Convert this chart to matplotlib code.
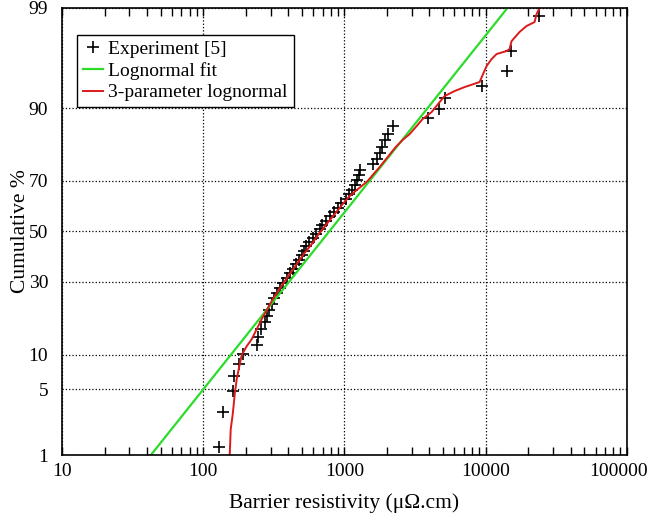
import math
import numpy as np
import matplotlib
matplotlib.use('Agg')
import matplotlib.pyplot as plt
from matplotlib import ticker
from matplotlib.transforms import ScaledTranslation

# Experiment [5] : resistivity (uOhm.cm) vs cumulative %
exp_x = [128.8, 137.4, 161.8, 164.4, 178.3, 190.3, 239.1, 243.0, 255.3, 272.4,
         281.4, 290.8, 305.3, 315.4, 331.3, 347.9, 365.3, 389.9, 409.5, 430.0,
         451.5, 474.2, 497.9, 514.5, 531.4, 558.1, 595.6, 625.6, 667.6, 689.6,
         736.0, 786.0, 838.7, 895.1, 940.0, 1019.8, 1071, 1124.6, 1180.8, 1220,
         1260.5, 1281, 1584, 1690, 1775, 1834, 1925, 2022, 2193, 3880,
         4642, 5118, 9354, 14060, 15010, 23680]
exp_y = [1.24, 3.01, 4.79, 6.56, 8.33, 10.11, 11.88, 13.65, 15.43, 17.20,
         18.97, 20.74, 22.52, 24.29, 26.06, 27.84, 29.61, 31.38, 33.16, 34.93,
         36.70, 38.48, 40.25, 42.02, 43.79, 45.57, 47.34, 49.11, 50.89, 52.66,
         54.43, 56.21, 57.98, 59.75, 61.52, 63.30, 65.07, 66.84, 68.62, 70.39,
         72.16, 73.94, 75.71, 77.48, 79.26, 81.03, 82.80, 84.57, 86.35, 88.12,
         89.89, 91.67, 93.44, 95.21, 96.99, 98.76]

# Lognormal fit (straight line on probability paper)
fit_x = [42.6, 14300]
fit_y = [1.0, 99.0]

# 3-parameter lognormal
tri_x = [154.0, 156.5, 161.8, 167.1, 172.6, 181.3, 187.3, 203.2, 220.4, 239.1,
         259.4, 281.4, 305.3, 331.3, 365.3, 409.5, 459.0, 514.5, 586.1, 656.9,
         748.2, 852.4, 971.1, 1088.4, 1220, 1323, 1459, 1584, 1775, 2022,
         2303, 2624, 2894, 3243, 3577, 4141, 4718, 5118, 6025, 7091,
         9054, 10148, 11010, 11946, 14060, 14760, 15250, 17380, 19480, 22190,
         22920, 24870]
tri_y = [1.0, 1.98, 2.87, 4.52, 6.22, 8.37, 9.9, 11.63, 13.1, 15.46,
         18.07, 20.64, 23.42, 26.05, 29.15, 32.85, 36.69, 40.67, 44.75, 48.88,
         53.04, 57.14, 61.18, 64.35, 66.64, 68.15, 69.99, 72.11, 74.83, 78.03,
         80.98, 83.15, 84.42, 86.34, 87.88, 89.28, 91.07, 92.04, 92.79, 93.34,
         93.99, 95.73, 96.35, 96.75, 96.97, 97.11, 97.61, 98.10, 98.37, 98.53,
         98.81, 99.10]

yticks = [1, 5, 10, 30, 50, 70, 90, 99]
xticks = [10, 100, 1000, 10000, 100000]


# probit scale helpers (percent <-> normal quantile)
A = [-3.969683028665376e+01, 2.209460984245205e+02, -2.759285104469687e+02,
     1.383577518672690e+02, -3.066479806614716e+01, 2.506628277459239e+00]
B = [-5.447609879822406e+01, 1.615858368580409e+02, -1.556989798598866e+02,
     6.680131188771972e+01, -1.328068155288572e+01]
C = [-7.784894002430293e-03, -3.223964580411365e-01, -2.400758277161838e+00,
     -2.549732539343734e+00, 4.374664141464968e+00, 2.938163982698783e+00]
D = [7.784695709041462e-03, 3.224671290700398e-01, 2.445134137142996e+00,
     3.754408661907416e+00]


def ppf(p):
    p = np.clip(np.asarray(p, dtype=float), 1e-9, 1 - 1e-9)
    with np.errstate(all='ignore'):
        q = p - 0.5
        r = q * q
        mid = (((((A[0]*r + A[1])*r + A[2])*r + A[3])*r + A[4])*r + A[5]) * q / \
              (((((B[0]*r + B[1])*r + B[2])*r + B[3])*r + B[4])*r + 1)
        ql = np.sqrt(-2 * np.log(p))
        low = (((((C[0]*ql + C[1])*ql + C[2])*ql + C[3])*ql + C[4])*ql + C[5]) / \
              ((((D[0]*ql + D[1])*ql + D[2])*ql + D[3])*ql + 1)
        qh = np.sqrt(-2 * np.log(1 - p))
        high = -(((((C[0]*qh + C[1])*qh + C[2])*qh + C[3])*qh + C[4])*qh + C[5]) / \
               ((((D[0]*qh + D[1])*qh + D[2])*qh + D[3])*qh + 1)
    return np.where(p < 0.02425, low, np.where(p > 1 - 0.02425, high, mid))


_erf = np.vectorize(math.erf)


def forward(y):
    return ppf(np.asarray(y, dtype=float) / 100.0)


def inverse(z):
    return 50.0 * (1 + _erf(np.asarray(z, dtype=float) / math.sqrt(2)))


plt.rcParams['font.family'] = ['Liberation Serif', 'DejaVu Serif']

fig = plt.figure(figsize=(6.53, 5.20), dpi=100)
ax = fig.add_axes([0.095, 0.125, 0.865, 0.86])

ax.set_xscale('log')
ax.set_yscale('function', functions=(forward, inverse))

ax.plot(exp_x, exp_y, linestyle='none', marker='+', color='black',
        markersize=8, markeredgewidth=1.2, label='Experiment [5]')
ax.plot(fit_x, fit_y, color='#2bdc2b', lw=1.6, label='Lognormal fit')
ax.plot(tri_x, tri_y, color='#dc1a1a', lw=1.4, label='3-parameter lognormal')

ax.set_xlim(10, 100000)
ax.set_ylim(1, 99)

ax.yaxis.set_major_locator(ticker.FixedLocator(yticks))
ax.yaxis.set_minor_locator(ticker.NullLocator())
ax.yaxis.set_major_formatter(ticker.FixedFormatter([str(t) for t in yticks]))
ax.set_xticks(xticks)
ax.set_xticklabels([str(t) for t in xticks])
ax.xaxis.set_minor_locator(ticker.LogLocator(base=10, subs=np.arange(2, 10)))
ax.xaxis.set_minor_formatter(ticker.NullFormatter())

ax.tick_params(axis='x', which='both', direction='in', top=True, length=6,
               width=1, labelsize=14, pad=6)
ax.tick_params(axis='y', which='both', length=0, labelsize=14, pad=10)

# keep the last x label inside the figure, as in the original
last = ax.get_xticklabels()[-1]
last.set_transform(last.get_transform() + ScaledTranslation(-6 / 72, 0, fig.dpi_scale_trans))

ax.grid(True, which='major', linestyle=':', color='black', linewidth=0.9)
for s in ax.spines.values():
    s.set_linewidth(1.2)

ax.set_xlabel('Barrier resistivity (\u03bc\u03a9.cm)', fontsize=15.5, labelpad=9)
ax.set_ylabel('Cumulative %', fontsize=15.5, labelpad=-1)

leg = ax.legend(loc='upper left', bbox_to_anchor=(0.027, 0.94), borderaxespad=0,
                fontsize=14, frameon=True, fancybox=False, edgecolor='black',
                framealpha=1, handlelength=1.0, handletextpad=0.3,
                labelspacing=0.2, borderpad=0.3)
leg.get_frame().set_linewidth(1.0)

plt.savefig('out.png', dpi=100)
